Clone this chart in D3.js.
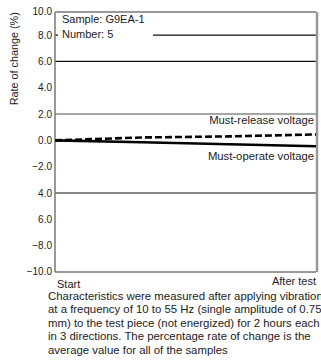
<!DOCTYPE html>
<html>
<head>
<meta charset="utf-8">
<script src="https://cdn.jsdelivr.net/npm/d3@7"></script>
<style>
  body { margin: 0; background: #fff; overflow: hidden; }
  svg { display: block; font-family: "Liberation Sans", Arial, sans-serif; }
</style>
</head>
<body>
<svg id="chart" width="321" height="363"></svg>
<script>
// data
var stages = ['Start', 'Dir 1', 'Dir 2', 'After test'];
var releaseVals = [0, 0.22, 0.3, 0.45];
var operateVals = [0, -0.15, -0.3, -0.45];
var tickVals = [10, 8, 6, 4, 2, 0, -2, -4, -6, -8, -10];
var tickLabels = ['10.0', '8.0', '6.0', '4.0', '2.0', '0.0', '\u22122.0', '4.0', '6.0', '\u22128.0', '\u221210.0'];
var gridDark = [8, 6, -4];
var gridGrey = [2];
var caption = [
  'Characteristics were measured after applying vibration',
  'at a frequency of 10 to 55 Hz (single amplitude of 0.75',
  'mm) to the test piece (not energized) for 2 hours each',
  'in 3 directions. The percentage rate of change is the',
  'average value for all of the samples'
];

var svg = d3.select('#chart');
var mLeft = 55, mRight = 316, mTop = 8.7, mBottom = 272;

var x = d3.scalePoint().domain(stages).range([mLeft, mRight]);
var y = d3.scaleLinear().domain([-10, 10]).range([mBottom, mTop]);

// grid lines
svg.selectAll('.gd').data(gridDark).enter().append('line')
  .attr('x1', mLeft).attr('x2', mRight)
  .attr('y1', function (d) { return y(d) }).attr('y2', function (d) { return y(d) })
  .attr('stroke', '#111').attr('stroke-width', 1.2)
svg.selectAll('.gg').data(gridGrey).enter().append('line')
  .attr('x1', mLeft).attr('x2', mRight)
  .attr('y1', function (d) { return y(d) }).attr('y2', function (d) { return y(d) })
  .attr('stroke', '#888').attr('stroke-width', 1.6)

// frame
var frameTop = y(9.75)
svg.append('line').attr('x1', mLeft).attr('x2', mRight).attr('y1', frameTop).attr('y2', frameTop)
  .attr('stroke', '#333').attr('stroke-width', 1)
svg.append('line').attr('x1', mRight + 1).attr('x2', mRight + 1).attr('y1', frameTop).attr('y2', y(-10))
  .attr('stroke', '#999').attr('stroke-width', 2.5)
svg.append('line').attr('x1', mLeft).attr('x2', mRight).attr('y1', y(-10)).attr('y2', y(-10))
  .attr('stroke', '#777').attr('stroke-width', 1.3)

// y axis
var yAxis = d3.axisLeft(y).tickValues(tickVals).tickSize(0).tickPadding(3)
  .tickFormat(function (d, i) { return tickLabels[i] })
var ga = svg.append('g').attr('transform', 'translate(' + mLeft + ',0)').call(yAxis)
ga.select('.domain').attr('d', 'M0,' + frameTop + 'V' + y(-10))
  .attr('stroke', '#777').attr('stroke-width', 1.5)
ga.selectAll('text').attr('font-size', 10).attr('fill', '#222')
  .attr('font-family', '"Liberation Sans", Arial, sans-serif')
// end labels sit a little inside like the original
ga.selectAll('.tick text').attr('dy', function (d) { return d === 10 ? '0.6em' : (d === -10 ? '0.2em' : '0.32em') })

svg.append('text')
  .attr('transform', 'translate(18,' + y(6.2) + ') rotate(-90)')
  .attr('text-anchor', 'middle')
  .attr('font-size', 10.8).attr('fill', '#222')
  .text('Rate of change (%)')

// legend box
var lg = svg.append('g').attr('transform', 'translate(' + (mLeft + 3) + ',' + (frameTop + 2) + ')')
lg.append('rect').attr('width', 95).attr('height', 28).attr('fill', '#fff')
lg.append('text').attr('x', 4).attr('y', 9).attr('font-size', 11).attr('fill', '#222').text('Sample: G9EA-1')
lg.append('text').attr('x', 4).attr('y', 24).attr('font-size', 11).attr('fill', '#222').text('Number: 5')

// series
var line = d3.line()
  .x(function (d, i) { return x(stages[i]) })
  .y(function (d) { return y(d) })

svg.append('path').datum(operateVals).attr('d', line)
  .attr('fill', 'none').attr('stroke', '#000').attr('stroke-width', 2.6)
svg.append('path').datum(releaseVals).attr('d', line)
  .attr('fill', 'none').attr('stroke', '#000').attr('stroke-width', 2.6)
  .attr('stroke-dasharray', '7,3')

svg.append('text').attr('x', mRight - 2).attr('y', y(1.25)).attr('text-anchor', 'end')
  .attr('font-size', 11.3).attr('fill', '#222').text('Must-release voltage')
svg.append('text').attr('x', mRight - 2).attr('y', y(-1.5)).attr('text-anchor', 'end')
  .attr('font-size', 11.3).attr('fill', '#222').text('Must-operate voltage')

// x labels
svg.append('text').attr('x', x('Start') + 2).attr('y', mBottom + 16)
  .attr('font-size', 11).attr('fill', '#222').text('Start')
svg.append('text').attr('x', mRight).attr('y', mBottom + 13).attr('text-anchor', 'end')
  .attr('font-size', 11).attr('fill', '#222').text('After test')

// caption
svg.selectAll('.cap').data(caption).enter().append('text')
  .attr('x', 48)
  .attr('y', function (d, i) { return mBottom + 28 + i * 13.4 })
  .attr('font-size', 11.4).attr('fill', '#222')
  .text(function (d) { return d })
</script>
</body>
</html>
